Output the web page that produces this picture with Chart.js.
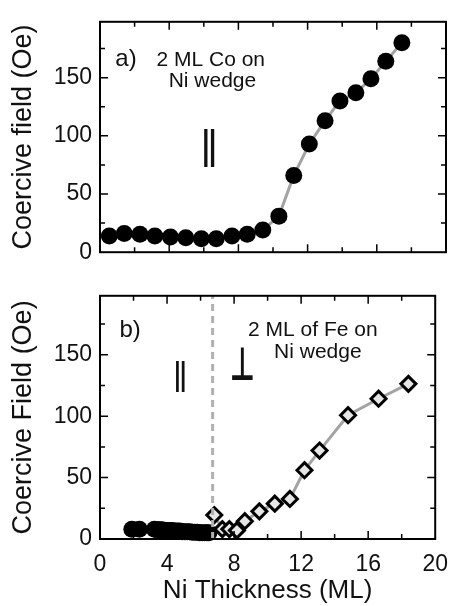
<!DOCTYPE html>
<html lang="en">
<head>
<meta charset="UTF-8">
<title>Coercive field vs Ni thickness</title>
<script src="https://cdn.jsdelivr.net/npm/chart.js"></script>
<style>
  body { margin: 0; background: #fff; }
  #wrap { position: relative; width: 460px; height: 606px; }
  canvas { position: absolute; left: 0; }
</style>
</head>
<body>
<div id="wrap">
  <canvas id="topChart" width="460" height="274" style="top:0"></canvas>
  <canvas id="bottomChart" width="460" height="332" style="top:274px"></canvas>
</div>
<script>
// panel a) 2 ML Co on Ni wedge
const coThickness = [0.54, 1.40, 2.31, 3.17, 4.07, 4.96, 5.86, 6.72, 7.63, 8.51, 9.41, 10.34, 11.20, 12.10, 13.01, 13.87, 14.79, 15.66, 16.52, 17.45];
const coField = [14, 16, 15.5, 14, 13, 12.5, 11.5, 11.5, 14, 15.5, 19, 31, 66, 93, 113, 130, 137, 149, 164, 180];

// panel b) 2 ML Fe on Ni wedge, in-plane (circles) and perpendicular (diamonds)
const feParThickness = [1.9, 2.35, 3.25, 3.4, 3.55, 3.7, 3.85, 4.0, 4.15, 4.3, 4.45, 4.6, 4.75, 4.9, 5.05, 5.2, 5.35, 5.5, 5.65, 5.8, 5.95, 6.1, 6.25, 6.4, 6.5];
const feParField = [8, 8, 8, 7.5, 7.5, 7.5, 7, 7, 7, 7, 6.5, 6.5, 6.5, 6, 6, 6, 6, 5.5, 5.5, 5.5, 5, 5, 5, 5, 5];
const fePerpThickness = [6.82, 7.3, 7.72, 8.17, 8.64, 9.51, 10.43, 11.33, 12.2, 13.1, 14.8, 16.62, 18.4];
const fePerpField = [19.5, 8, 8, 7, 14.5, 22.5, 28.8, 32.6, 56, 72, 100.8, 114.2, 126.3];

// spin reorientation boundary
const reorientX = [6.72, 6.72];
const reorientY = [0, 198];

const xTicks = [0, 4, 8, 12, 16, 20];
const yTicks = [0, 50, 100, 150];

Chart.defaults.font.family = "'Liberation Sans', Arial, sans-serif";
Chart.defaults.color = '#111';

function pts(xs, ys) {
  return xs.map((x, i) => ({ x: x, y: ys[i] }));
}

// frame + inward tick marks on all four sides
const framePlugin = {
  id: 'frame',
  afterDatasetsDraw(chart) {
    const { ctx, chartArea: a, scales: { x, y } } = chart;
    ctx.save();
    ctx.strokeStyle = '#000';
    ctx.lineWidth = 2;
    ctx.strokeRect(a.left, a.top, a.right - a.left, a.bottom - a.top);
    ctx.lineWidth = 1.5;
    ctx.beginPath();
    for (let v = 2; v < 20; v += 2) {
      const px = x.getPixelForValue(v);
      const len = v % 4 === 0 ? 8 : 5;
      ctx.moveTo(px, a.bottom); ctx.lineTo(px, a.bottom - len);
      ctx.moveTo(px, a.top); ctx.lineTo(px, a.top + len);
    }
    for (let v = 25; v < 198; v += 25) {
      const py = y.getPixelForValue(v);
      const len = v % 50 === 0 ? 8 : 5;
      ctx.moveTo(a.left, py); ctx.lineTo(a.left + len, py);
      ctx.moveTo(a.right, py); ctx.lineTo(a.right - len, py);
    }
    ctx.stroke();
    ctx.restore();
  }
};

// text notes placed in data coordinates
const notesPlugin = {
  id: 'notes',
  afterDatasetsDraw(chart, args, opts) {
    const { ctx, scales: { x, y } } = chart;
    ctx.save();
    ctx.fillStyle = '#111';
    ctx.textAlign = 'center';
    ctx.textBaseline = 'middle';
    (opts.items || []).forEach(n => {
      ctx.save();
      ctx.font = n.font;
      ctx.letterSpacing = n.spacing || '0px';
      ctx.translate(x.getPixelForValue(n.x), y.getPixelForValue(n.y));
      if (n.sx) ctx.scale(n.sx, 1);
      ctx.fillText(n.text, 0, 0);
      ctx.restore();
    });
    ctx.restore();
  }
};

function makeOptions(isBottom, yTitle, notes) {
  return {
    responsive: false,
    animation: false,
    layout: { padding: { top: isBottom ? 4 : 9, right: isBottom ? 13 : 14, left: 0, bottom: 0 } },
    plugins: { legend: { display: false }, tooltip: { enabled: false }, notes: { items: notes } },
    scales: {
      x: {
        type: 'linear', min: 0, max: 20,
        grid: { display: false, drawTicks: false },
        border: { display: false },
        ticks: { display: isBottom, padding: 12, font: { size: 23 } },
        afterBuildTicks: s => { s.ticks = xTicks.map(v => ({ value: v })); },
        title: { display: isBottom, text: 'Ni Thickness (ML)', font: { size: 26 }, padding: { top: 0, bottom: 0 } },
        afterFit: s => { s.height = isBottom ? 67 : 5; }
      },
      y: {
        type: 'linear', min: 0, max: 198,
        grid: { display: false, drawTicks: false },
        border: { display: false },
        ticks: { padding: 8, font: { size: 23 } },
        afterBuildTicks: s => { s.ticks = yTicks.map(v => ({ value: v })); },
        title: { display: true, text: yTitle, font: { size: 27 }, padding: { top: 7, bottom: 0 } },
        afterFit: s => { s.width = 100; }
      }
    }
  };
}

const lineGrey = '#a3a3a3';

new Chart(document.getElementById('topChart'), {
  type: 'scatter',
  data: {
    datasets: [{
      data: pts(coThickness, coField),
      showLine: true, borderColor: lineGrey, borderWidth: 3,
      pointRadius: 8.5, pointBackgroundColor: '#000', pointBorderColor: '#000', pointBorderWidth: 0
    }]
  },
  options: makeOptions(false, 'Coercive field (Oe)', [
    { text: 'a)', x: 1.5, y: 166, font: '24px "Liberation Sans"' },
    { text: '2 ML Co on', x: 6.4, y: 165, font: '21px "Liberation Sans"' },
    { text: 'Ni wedge', x: 6.5, y: 147, font: '21px "Liberation Sans"' },
    { text: '||', x: 6.2, y: 90, font: '41px "Liberation Sans"', spacing: '-4px' }
  ]),
  plugins: [framePlugin, notesPlugin]
});

new Chart(document.getElementById('bottomChart'), {
  type: 'scatter',
  data: {
    datasets: [{
      data: pts(reorientX, reorientY),
      showLine: true, borderColor: '#b0b0b0', borderWidth: 3, borderDash: [7, 5],
      pointRadius: 0
    }, {
      data: pts(feParThickness, feParField),
      showLine: false, clip: false,
      pointRadius: 8.5, pointBackgroundColor: '#000', pointBorderColor: '#000', pointBorderWidth: 0
    }, {
      data: pts(fePerpThickness, fePerpField),
      showLine: true, borderColor: lineGrey, borderWidth: 3,
      pointStyle: 'rectRot', pointRadius: 7.5, pointBackgroundColor: '#e6e6e6',
      pointBorderColor: '#000', pointBorderWidth: 3
    }]
  },
  options: makeOptions(true, 'Coercive Field (Oe)', [
    { text: 'b)', x: 1.8, y: 170, font: '24px "Liberation Sans"' },
    { text: '2 ML of Fe on', x: 12.7, y: 170, font: '21px "Liberation Sans"' },
    { text: 'Ni wedge', x: 13.0, y: 152, font: '21px "Liberation Sans"' },
    { text: '||', x: 4.7, y: 133, font: '34px "Liberation Sans"', spacing: '-3px' },
    { text: '\u22A5', x: 8.5, y: 139, font: 'bold 46px "DejaVu Sans"', sx: 0.6 }
  ]),
  plugins: [framePlugin, notesPlugin]
});
</script>
</body>
</html>
